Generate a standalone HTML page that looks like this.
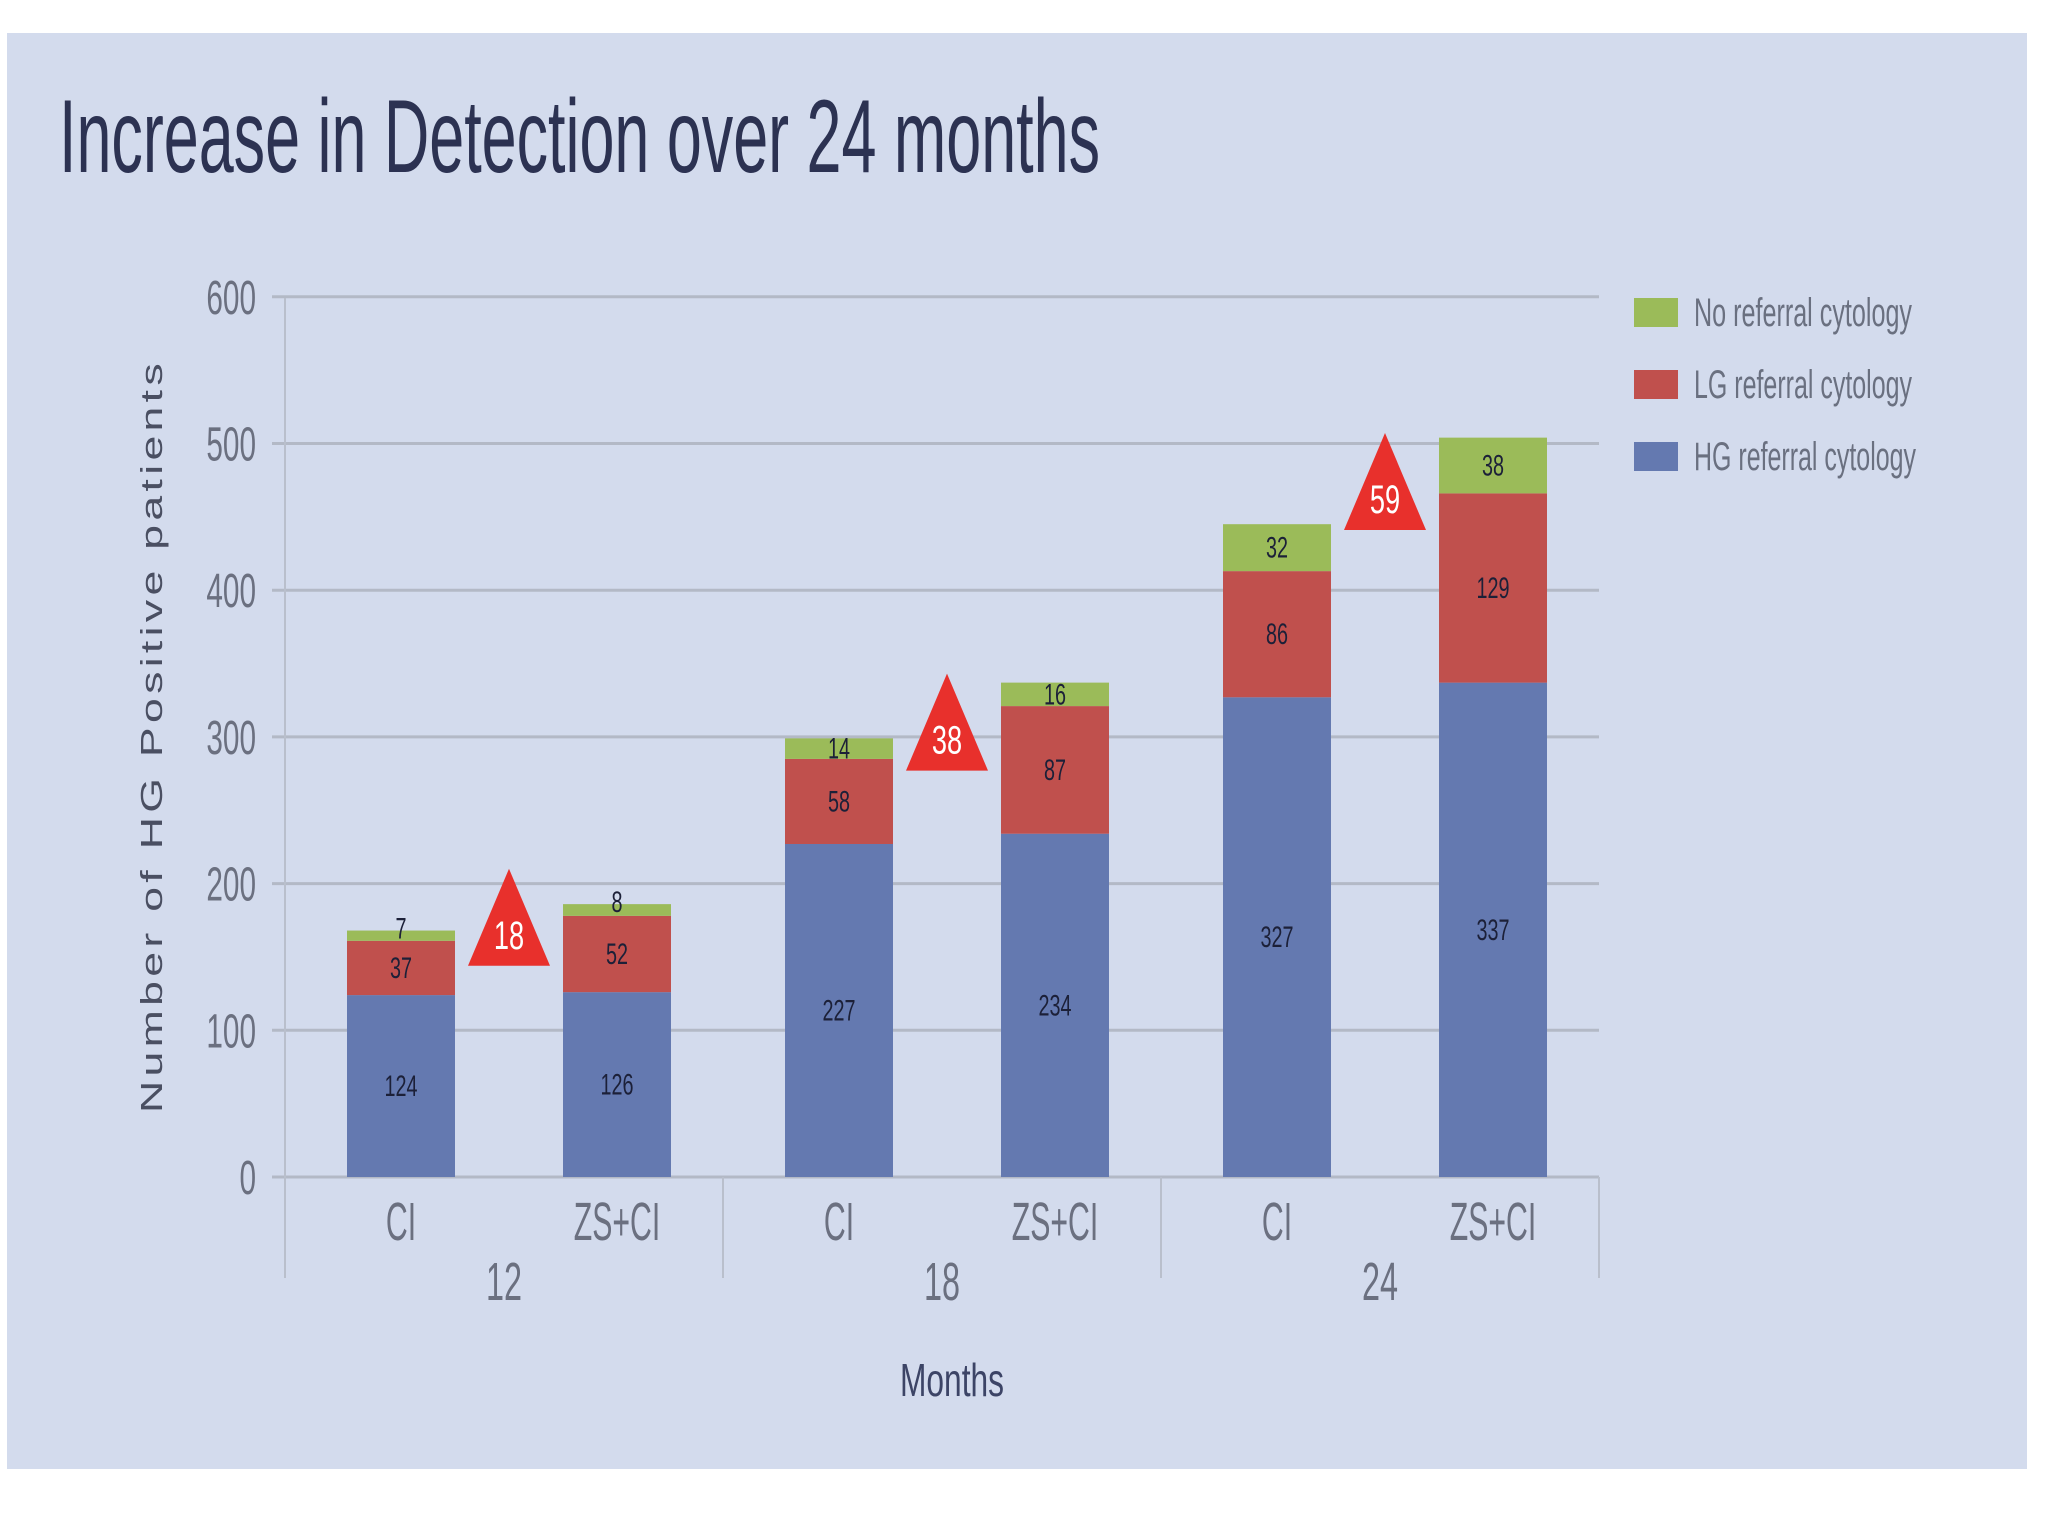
<!DOCTYPE html>
<html><head><meta charset="utf-8"><style>
html,body{margin:0;padding:0;background:#fff;}
svg{display:block;}
</style></head><body>
<svg id="chart" width="2048" height="1536" viewBox="0 0 2048 1536" xmlns="http://www.w3.org/2000/svg" font-family="Liberation Sans, sans-serif">
<rect x="7" y="33" width="2020" height="1436" fill="#d3dbed"/>
<text x="59" y="172" font-size="104" fill="#2c3252" textLength="1041" lengthAdjust="spacingAndGlyphs">Increase in Detection over 24 months</text>
<g id="grid"></g>
<g id="bars"></g>
<g id="axes"></g>
<text transform="translate(162,736) rotate(-90)" text-anchor="middle" font-size="31" letter-spacing="3" fill="#4a4f62" textLength="754" lengthAdjust="spacingAndGlyphs">Number of HG Positive patients</text>
<text x="952" y="1396" text-anchor="middle" font-size="46" fill="#3c4466" textLength="104" lengthAdjust="spacingAndGlyphs">Months</text>
<g>
 <g><rect x="1634" y="298" width="44" height="29" fill="#9bbb59"/><text x="1694" y="326" font-size="40" fill="#6a7080" textLength="218" lengthAdjust="spacingAndGlyphs">No referral cytology</text></g>
 <g><rect x="1634" y="370" width="44" height="29" fill="#c0504d"/><text x="1694" y="398" font-size="40" fill="#6a7080" textLength="218" lengthAdjust="spacingAndGlyphs">LG referral cytology</text></g>
 <g><rect x="1634" y="442" width="44" height="29" fill="#6479b0"/><text x="1694" y="470" font-size="40" fill="#6a7080" textLength="222" lengthAdjust="spacingAndGlyphs">HG referral cytology</text></g>
</g>
</svg>
<script>
const groups = ["12","18","24"];
const arms = ["CI","ZS+CI"];
const hgValues = [124,126,227,234,327,337];
const lgValues = [37,52,58,87,86,129];
const noValues = [7,8,14,16,32,38];
const increaseValues = [18,38,59];
const increaseBase = [144,277,441];
const yTicks = [0,100,200,300,400,500,600];

const NS="http://www.w3.org/2000/svg";
const X0=285, X1=1599, Y0=1177, PXPER=146.7/100;
const groupW=(X1-X0)/groups.length;
const barW=108;
function y(v){return Y0-v*PXPER;}
function barCenter(i){const g=Math.floor(i/2),a=i%2;return X0+g*groupW+(a===0?116:332);}
function mk(tag,attrs,parent){const e=document.createElementNS(NS,tag);for(const k in attrs)e.setAttribute(k,attrs[k]);parent.appendChild(e);return e;}
function cond(parent,x,yy,str,size,fill,sx){
  const g=mk('g',{transform:`translate(${x},${yy}) scale(${sx},1)`},parent);
  const t=mk('text',{x:0,y:0,'text-anchor':'middle','font-size':size,fill:fill},g);
  t.textContent=str;return g;
}
const grid=document.getElementById('grid'),bars=document.getElementById('bars'),axes=document.getElementById('axes');
yTicks.forEach(v=>{
  const l=mk('line',{x1:272,x2:X1,y1:y(v),y2:y(v),stroke:'#b3b9c6','stroke-width':3},grid);
  
  
  const g=mk('g',{transform:`translate(256,${y(v)+17}) scale(0.62,1)`},axes);
  const t=mk('text',{x:0,y:0,'text-anchor':'end','font-size':48,fill:'#6b7080'},g);
  t.textContent=v;
  
  
});
[0,1,2,3].forEach(k=>{
  const x=X0+k*groupW;
  const l=mk('line',{x1:x,x2:x,y1:k===0?298:Y0,y2:1278,stroke:'#b9bfcc','stroke-width':2},axes);
  
  
});
for(let i=0;i<hgValues.length;i++){
  const cx=barCenter(i);
  const segs=[[hgValues[i],'#6479b0','hg'],[lgValues[i],'#c0504d','lg'],[noValues[i],'#9bbb59','no']];
  let base=0;
  segs.forEach(([v,c,n])=>{
    const r=mk('rect',{x:cx-barW/2,y:y(base+v),width:barW,height:v*PXPER,fill:c},bars);
    
    
    let ly=y(base+v/2)+10;
    if(n==='no'&&v<12) ly=y(base+v)+8;
    const lab=cond(bars,cx,ly,String(v),30,'#1c2038',0.66);
    
    
    base+=v;
  });
  const cl=cond(axes,cx,1240,arms[i%2],54,'#6b7080',0.56);
  
  
}
groups.forEach((g,k)=>{
  const t=cond(axes,X0+(k+0.5)*groupW,1300,g,54,'#6b7080',0.6);
  
  
  const cx=(barCenter(2*k)+barCenter(2*k+1))/2;
  const b=y(increaseBase[k]), a=b-97;
  const tri=mk('polygon',{points:`${cx},${a} ${cx-41},${b} ${cx+41},${b}`,fill:'#e8302c'},bars);
  
  
  const tl=cond(bars,cx,b-17,String(increaseValues[k]),40,'#ffffff',0.68);
  
  
});
</script>
</body></html>
